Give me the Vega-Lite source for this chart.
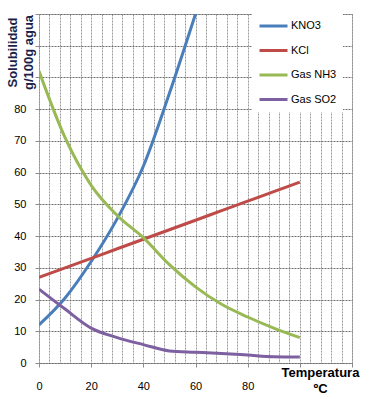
{
  "$schema": "https://vega.github.io/schema/vega-lite/v6.json",
  "autosize": "none",
  "width": 313,
  "height": 349,
  "padding": {"left": 39, "top": 14, "right": 22, "bottom": 36},
  "background": "white",
  "config": {
    "font": "Liberation Sans",
    "view": {"stroke": "#8c8c8c", "strokeDash": [2, 1], "strokeWidth": 1}
  },
  "data": {
    "values": [
      {"T": 0, "S": 12, "Sustancia": "KNO3"},
      {"T": 10, "S": 20.5, "Sustancia": "KNO3"},
      {"T": 20, "S": 32, "Sustancia": "KNO3"},
      {"T": 30, "S": 45.5, "Sustancia": "KNO3"},
      {"T": 40, "S": 62, "Sustancia": "KNO3"},
      {"T": 50, "S": 85, "Sustancia": "KNO3"},
      {"T": 60, "S": 110, "Sustancia": "KNO3"},
      {"T": 0, "S": 27, "Sustancia": "KCl"},
      {"T": 10, "S": 30, "Sustancia": "KCl"},
      {"T": 20, "S": 33, "Sustancia": "KCl"},
      {"T": 30, "S": 36, "Sustancia": "KCl"},
      {"T": 40, "S": 39, "Sustancia": "KCl"},
      {"T": 50, "S": 42, "Sustancia": "KCl"},
      {"T": 60, "S": 45, "Sustancia": "KCl"},
      {"T": 70, "S": 48, "Sustancia": "KCl"},
      {"T": 80, "S": 51, "Sustancia": "KCl"},
      {"T": 90, "S": 54, "Sustancia": "KCl"},
      {"T": 100, "S": 57, "Sustancia": "KCl"},
      {"T": 0, "S": 92, "Sustancia": "Gas NH3"},
      {"T": 10, "S": 71, "Sustancia": "Gas NH3"},
      {"T": 20, "S": 56, "Sustancia": "Gas NH3"},
      {"T": 30, "S": 46.5, "Sustancia": "Gas NH3"},
      {"T": 40, "S": 39.5, "Sustancia": "Gas NH3"},
      {"T": 50, "S": 31, "Sustancia": "Gas NH3"},
      {"T": 60, "S": 24, "Sustancia": "Gas NH3"},
      {"T": 70, "S": 18.5, "Sustancia": "Gas NH3"},
      {"T": 80, "S": 14.5, "Sustancia": "Gas NH3"},
      {"T": 90, "S": 11, "Sustancia": "Gas NH3"},
      {"T": 100, "S": 8, "Sustancia": "Gas NH3"},
      {"T": 0, "S": 23.3, "Sustancia": "Gas SO2"},
      {"T": 10, "S": 17, "Sustancia": "Gas SO2"},
      {"T": 20, "S": 11, "Sustancia": "Gas SO2"},
      {"T": 30, "S": 8, "Sustancia": "Gas SO2"},
      {"T": 40, "S": 5.8, "Sustancia": "Gas SO2"},
      {"T": 50, "S": 3.8, "Sustancia": "Gas SO2"},
      {"T": 60, "S": 3.4, "Sustancia": "Gas SO2"},
      {"T": 70, "S": 3, "Sustancia": "Gas SO2"},
      {"T": 80, "S": 2.5, "Sustancia": "Gas SO2"},
      {"T": 90, "S": 2, "Sustancia": "Gas SO2"},
      {"T": 100, "S": 1.9, "Sustancia": "Gas SO2"}
    ]
  },
  "mark": {"type": "line", "interpolate": "monotone", "strokeWidth": 3, "clip": true},
  "encoding": {
    "x": {
      "field": "T",
      "type": "quantitative",
      "scale": {"domain": [0, 120], "nice": false},
      "axis": {
        "values": [0, 4, 8, 12, 16, 20, 24, 28, 32, 36, 40, 44, 48, 52, 56, 60, 64, 68, 72, 76, 80, 84, 88, 92, 96, 100, 104, 108, 112, 116, 120],
        "labelExpr": "(datum.value % 20 === 0 && datum.value <= 80) ? datum.label : ''",
        "grid": true,
        "gridColor": "#9a9a9a",
        "gridDash": [2, 1],
        "gridWidth": 1,
        "domain": false,
        "tickColor": "#8c8c8c",
        "tickSize": 4,
        "tickOpacity": {"condition": {"test": "datum.value % 20 === 0", "value": 1}, "value": 0},
        "labelFontSize": 11,
        "labelColor": "#000000",
        "labelPadding": 13,
        "labelFlush": false,
        "title": ["Temperatura", "ºC"],
        "titleFontSize": 13,
        "titleFontWeight": "bold",
        "titleColor": "#000000",
        "titleAngle": 0,
        "titleAlign": "center",
        "titleBaseline": "top",
        "titleLineHeight": 16,
        "titleX": 281,
        "titleY": 3
      }
    },
    "y": {
      "field": "S",
      "type": "quantitative",
      "scale": {"domain": [0, 110], "nice": false},
      "axis": {
        "values": [0, 10, 20, 30, 40, 50, 60, 70, 80, 90, 100, 110],
        "labelExpr": "datum.value <= 80 ? datum.label : ''",
        "grid": true,
        "gridColor": "#6e6e6e",
        "gridDash": [2, 1],
        "gridWidth": 1,
        "domain": false,
        "tickColor": "#8c8c8c",
        "tickSize": 4,
        "labelFontSize": 11,
        "labelColor": "#000000",
        "labelPadding": 9,
        "title": ["Solubilidad", "g/100g agua"],
        "titleFontSize": 13,
        "titleFontWeight": "bold",
        "titleColor": "#1b1f4a",
        "titleAngle": -90,
        "titleAlign": "center",
        "titleBaseline": "top",
        "titleLineHeight": 16,
        "titleX": -33,
        "titleY": 38
      }
    },
    "color": {
      "field": "Sustancia",
      "type": "nominal",
      "scale": {
        "domain": ["KNO3", "KCl", "Gas NH3", "Gas SO2"],
        "range": ["#4a7ebb", "#be4b48", "#98b954", "#7d60a0"]
      },
      "legend": {
        "title": null,
        "orient": "none",
        "legendX": 213,
        "legendY": 0,
        "padding": 6,
        "fillColor": "white",
        "symbolType": "stroke",
        "symbolSize": 784,
        "symbolStrokeWidth": 3,
        "clipHeight": 12,
        "rowPadding": 12.5,
        "labelFontSize": 11,
        "labelColor": "#000000",
        "labelOffset": 2
      }
    }
  }
}
